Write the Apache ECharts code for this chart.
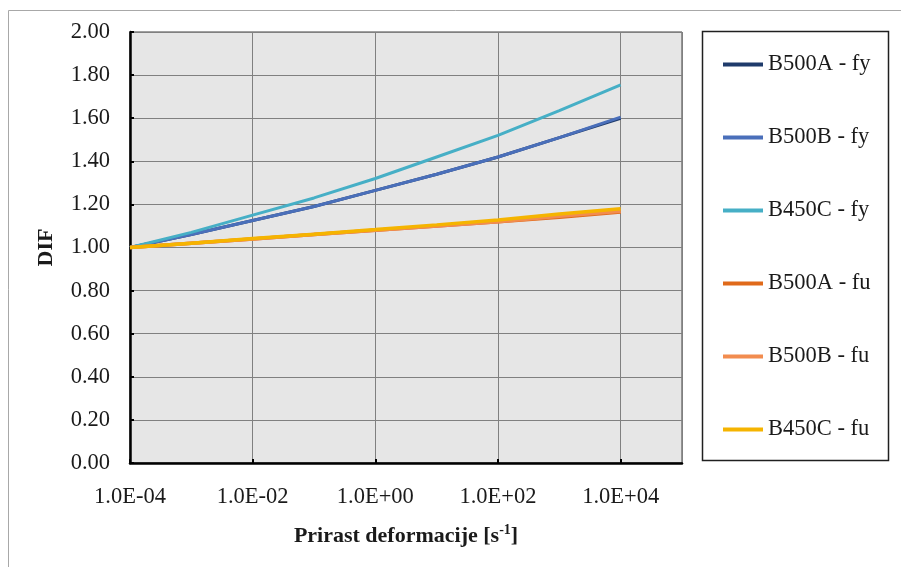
<!DOCTYPE html>
<html><head><meta charset="utf-8">
<script src="https://cdn.jsdelivr.net/npm/echarts@6/dist/echarts.min.js"></script>
<style>html,body{margin:0;padding:0;background:#fff}#c{width:901px;height:567px}</style>
</head><body><div id="c"></div>
<script>
// strain rates [1/s]
const strainRates = [1e-4, 1e-3, 1e-2, 1e-1, 1e0, 1e1, 1e2, 1e3, 1e4];
const seriesNames = ['B500A - fy', 'B500B - fy', 'B450C - fy', 'B500A - fu', 'B500B - fu', 'B450C - fu'];
const B500A_fy = [1.00, 1.06, 1.125, 1.19, 1.265, 1.34, 1.42, 1.51, 1.60];
const B500B_fy = [1.00, 1.06, 1.125, 1.19, 1.265, 1.34, 1.42, 1.51, 1.605];
const B450C_fy = [1.00, 1.07, 1.15, 1.23, 1.32, 1.42, 1.52, 1.635, 1.755];
const B500A_fu = [1.00, 1.02, 1.04, 1.06, 1.08, 1.10, 1.12, 1.14, 1.165];
const B500B_fu = [1.00, 1.02, 1.04, 1.06, 1.08, 1.10, 1.12, 1.145, 1.168];
const B450C_fu = [1.00, 1.02, 1.042, 1.062, 1.083, 1.105, 1.128, 1.155, 1.18];
const yTicks = [0, 0.2, 0.4, 0.6, 0.8, 1.0, 1.2, 1.4, 1.6, 1.8, 2.0];

const colors = ['#1F3B6B', '#4A6FBA', '#46AFC6', '#E06A1A', '#F28C4F', '#F5B400'];
const allValues = [B500A_fy, B500B_fy, B450C_fy, B500A_fu, B500B_fu, B450C_fu];
const font = '"Liberation Serif", "Times New Roman", serif';

function fmtExp(v) {
  const e = Math.round(Math.log10(v));
  const s = e < 0 ? '-' : '+';
  const a = Math.abs(e);
  return '1.0E' + s + (a < 10 ? '0' : '') + a;
}

const chart = echarts.init(document.getElementById('c'), null, {renderer: 'canvas'});
chart.setOption({
  animation: false,
  backgroundColor: '#ffffff',
  textStyle: {fontFamily: font},
  graphic: [
    {type: 'rect', shape: {x: 8.5, y: 10.5, width: 900, height: 565}, style: {fill: null, stroke: '#a8a8a8', lineWidth: 1}, z: -10},
    {type: 'rect', shape: {x: 702.5, y: 31.5, width: 186, height: 429}, style: {fill: '#fff', stroke: '#202020', lineWidth: 1.5}, z: -5}
  ],
  legend: {
    orient: 'vertical',
    left: 723,
    top: 53,
    icon: 'rect',
    itemWidth: 40,
    itemHeight: 4,
    itemGap: 50,
    padding: 0,
    data: seriesNames,
    textStyle: {fontFamily: font, fontSize: 22.5, color: '#1a1a1a'}
  },
  grid: {left: 130, top: 32, right: 219, bottom: 104, show: true, backgroundColor: '#E6E6E6', borderColor: '#404040', borderWidth: 1},
  xAxis: {
    type: 'log', logBase: 10, min: 1e-4, max: 1e5, interval: 2,
    name: '{a|Prirast deformacije [s}{b|-1}{a|]}',
    nameLocation: 'middle', nameGap: 60,
    nameTextStyle: {rich: {a: {fontFamily: font, fontSize: 22, fontWeight: 'bold', color: '#1a1a1a', lineHeight: 26}, b: {fontFamily: font, fontSize: 14, fontWeight: 'bold', color: '#1a1a1a', verticalAlign: 'top', lineHeight: 26}}},
    axisLine: {lineStyle: {color: '#000', width: 2.5}},
    axisTick: {inside: true, length: 4, lineStyle: {color: '#000', width: 2}},
    axisLabel: {margin: 23, fontFamily: font, fontSize: 22.5, color: '#1a1a1a', formatter: v => (v > 3e4 ? '' : fmtExp(v)), showMaxLabel: false},
    splitLine: {show: true, lineStyle: {color: '#808080', width: 1}},
    minorTick: {show: false}
  },
  yAxis: {
    type: 'value', min: yTicks[0], max: yTicks[yTicks.length - 1], interval: 0.2,
    name: 'DIF', nameLocation: 'middle', nameGap: 73, nameRotate: 90,
    nameTextStyle: {fontFamily: font, fontSize: 22, fontWeight: 'bold', color: '#1a1a1a'},
    axisLine: {show: true, lineStyle: {color: '#000', width: 2.5}},
    axisTick: {show: true, inside: true, length: 4, lineStyle: {color: '#000', width: 2}},
    axisLabel: {margin: 20, fontFamily: font, fontSize: 22.5, color: '#1a1a1a', formatter: v => v.toFixed(2)},
    splitLine: {show: true, lineStyle: {color: '#808080', width: 1}}
  },
  series: seriesNames.map((n, i) => ({
    name: n, type: 'line', showSymbol: false, symbol: 'none',
    data: strainRates.map((x, j) => [x, allValues[i][j]]),
    lineStyle: {color: colors[i], width: i >= 3 ? 3.5 : 3},
    itemStyle: {color: colors[i]},
    z: 2 + i
  }))
});
</script></body></html>
